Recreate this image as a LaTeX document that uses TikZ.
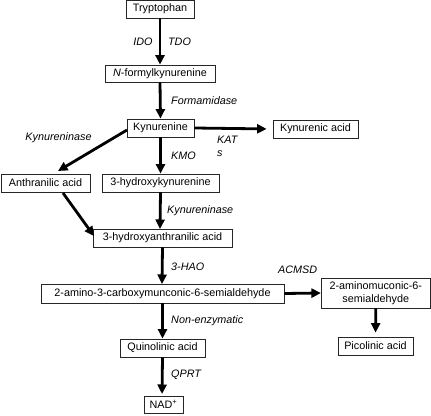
\documentclass[tikz,border=0pt]{standalone}
\usepackage{fontspec}
\setmainfont{Liberation Sans}
\usetikzlibrary{arrows.meta}
\begin{document}
\begin{tikzpicture}[x=1pt,y=-1pt,
  box/.style={draw=black!85,line width=0.8pt,rectangle,inner sep=0pt,align=center,font=\fontsize{10.8}{12}\selectfont},
  lbl/.style={inner sep=0pt,font=\fontsize{10.8}{12}\selectfont\itshape},
  arr/.style={line width=2.8pt,-{Triangle[length=9.5pt,width=9pt]}}]
\useasboundingbox (0,0) rectangle (431,415);
\node[box,minimum width=68pt,minimum height=17.5pt] (trp) at (160,9.2) {Tryptophan};
\node[box,minimum width=110pt,minimum height=17pt] (nfk) at (160,73.5) {\textit{N}-formylkynurenine};
\node[box,minimum width=67pt,minimum height=18pt] (kyn) at (160.5,128) {Kynurenine};
\node[box,minimum width=85pt,minimum height=18pt] (kyna) at (315.5,129) {Kynurenic acid};
\node[box,minimum width=89pt,minimum height=18pt] (anth) at (45.5,183) {Anthranilic acid};
\node[box,minimum width=117pt,minimum height=18pt] (hk) at (160.5,183) {3-hydroxykynurenine};
\node[box,minimum width=139pt,minimum height=18pt] (haa) at (162.5,238) {3-hydroxyanthranilic acid};
\node[box,minimum width=243pt,minimum height=19pt] (acms) at (162.5,293.5) {2-amino-3-carboxymunconic-6-semialdehyde};
\node[box,minimum width=109pt,minimum height=30pt,font=\fontsize{10.8}{12.5}\selectfont] (amsa) at (375.8,293) {2-aminomuconic-6-\\semialdehyde};
\node[box,minimum width=75pt,minimum height=18pt] (pic) at (375.5,346) {Picolinic acid};
\node[box,minimum width=85pt,minimum height=18pt] (qa) at (162.5,348) {Quinolinic acid};
\node[box,minimum width=39pt,minimum height=17pt] (nad) at (163.5,404.5) {NAD\textsuperscript{+}};

\coordinate (kynw) at (127,130);
\coordinate (antht) at (58,171);
\coordinate (anthb) at (63,193);
\coordinate (haaw) at (94,236);

\draw[arr] (trp.south) -- (nfk.north);
\draw[arr] (nfk.south) -- (kyn.north);
\draw[arr] (kyn.south) -- (hk.north);
\draw[arr] (hk.south) -- (160,229);
\draw[arr] (haa.south) -- (162,284);
\draw[arr] (acms.south) -- (qa.north);
\draw[arr,shorten >=2pt] (qa.south) -- (162,396);
\draw[arr,shorten >=6pt] (kyn.east) -- (kyna.west);
\draw[arr] (kynw) -- (antht);
\draw[arr] (anthb) -- (haaw);
\draw[arr] (acms.east) -- (amsa.west);
\draw[arr,shorten >=4pt] (amsa.south) -- (pic.north);

\node[lbl] (ido) at (143,42) {IDO};
\node[lbl] (tdo) at (179.5,42) {TDO};
\node[lbl,anchor=west] (form) at (171,101) {Formamidase};
\node[lbl,anchor=west] (kat) at (217,140) {KAT};
\node[lbl,anchor=west] (kats) at (217,154) {s};
\node[lbl,anchor=west] (kmo) at (171,155.5) {KMO};
\node[lbl] (kynase1) at (58.5,138) {Kynureninase};
\node[lbl,anchor=west] (kynase2) at (167,211) {Kynureninase};
\node[lbl,anchor=west] (hao) at (171,267) {3-HAO};
\node[lbl,anchor=west] (acmsd) at (278,269.5) {ACMSD};
\node[lbl,anchor=west] (nonenz) at (171,321) {Non-enzymatic};
\node[lbl,anchor=west] (qprt) at (171,375) {QPRT};
\end{tikzpicture}
\end{document}
